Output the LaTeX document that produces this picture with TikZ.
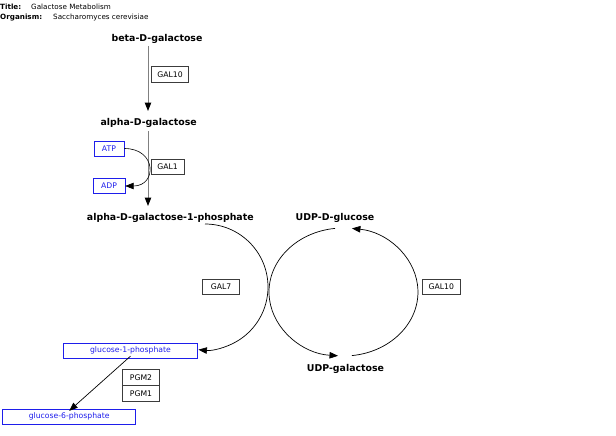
\documentclass[tikz,border=0pt]{standalone}
\usepackage{fontspec}
\setmainfont{DejaVu Sans}
\usetikzlibrary{arrows.meta}
\definecolor{mblue}{RGB}{30,30,235}
\definecolor{bxgray}{RGB}{60,60,60}
\begin{document}
\begin{tikzpicture}[x=1pt,y=1pt,yscale=-1,
  met/.style={font=\fontsize{9.4}{11}\selectfont\bfseries, inner sep=0pt},
  ttl/.style={font=\fontsize{7.2}{9}\selectfont, inner sep=0pt, anchor=west},
  gene/.style={draw=bxgray, line width=0.6pt, font=\fontsize{7.7}{9}\selectfont, inner sep=0pt, minimum height=15.5pt},
  bmet/.style={draw=mblue, text=mblue, line width=0.7pt, font=\fontsize{7.7}{9}\selectfont, inner sep=0pt, minimum height=15pt},
  tip/.style={-{Triangle[length=8.5pt,width=6.5pt,color=black]}},
  vconv/.style={tip, draw=black!50, line width=1pt},
  rxn/.style={tip, draw=black, line width=0.7pt}
]
\useasboundingbox (0,0) rectangle (616,436);

% title
\node[ttl,font=\fontsize{7.2}{9}\selectfont\bfseries] (tl) at (0,7) {Title:};
\node[ttl] (tv) at (31,7) {Galactose Metabolism};
\node[ttl,font=\fontsize{7.2}{9}\selectfont\bfseries] (ol) at (0,18) {Organism:};
\node[ttl] (ov) at (53,18) {Saccharomyces cerevisiae};

% metabolites
\node[met] (beta) at (157,38.5) {beta-D-galactose};
\node[met] (alpha) at (148.7,122.5) {alpha-D-galactose};
\node[met] (a1p) at (170.3,218) {alpha-D-galactose-1-phosphate};
\node[met] (udpg) at (335,217.8) {UDP-D-glucose};
\node[met] (udpgal) at (345.5,368.8) {UDP-galactose};

\node[bmet, minimum width=30pt] (atp) at (109,148.5) {ATP};
\node[bmet, minimum width=31.7pt] (adp) at (109,186) {ADP};
\node[bmet, minimum width=134.4pt] (g1p) at (130.5,350.8) {glucose-1-phosphate};
\node[bmet, minimum width=133pt] (g6p) at (69.2,416.7) {glucose-6-phosphate};

% genes
\node[gene, minimum width=36.6pt] (gal10a) at (170,74.5) {GAL10};
\node[gene, minimum width=33pt] (gal1) at (167.5,167) {GAL1};
\node[gene, minimum width=37pt] (gal7) at (221,286.7) {GAL7};
\node[gene, minimum width=37.3pt] (gal10b) at (441.3,286.7) {GAL10};
\node[gene, minimum width=36.7pt] (pgm2) at (141,377.2) {PGM2};
\node[gene, minimum width=36.7pt, anchor=north] (pgm1) at (pgm2.south) {PGM1};

% vertical conversions
\coordinate (v1s) at (148,46);
\coordinate (v1e) at (148,111);
\draw[vconv] (v1s) -- (v1e);
\coordinate (v2s) at (148,131);
\coordinate (v2e) at (148,206);
\draw[vconv] (v2s) -- (v2e);

% ATP -> ADP
\draw[rxn, line width=0.6pt] (atp.east) .. controls (157,148.5) and (157,186) .. (adp.east);

% GAL7 arc
\coordinate (l1) at (205,224);
\draw[rxn] (l1) arc[start angle=-90, end angle=96, radius=63];

% UDP-glucose -> UDP-galactose
\coordinate (r1) at (335,228.4);
\draw[rxn] (r1) arc[start angle=-96.55, end angle=-265.8, x radius=74.5, y radius=64];
% UDP-galactose -> UDP-glucose
\coordinate (r2) at (351.9,355.6);
\draw[rxn] (r2) arc[start angle=83.5, end angle=-83.5, x radius=74.5, y radius=64];

% glucose-1-phosphate -> glucose-6-phosphate
\draw[rxn] ([yshift=-2.5pt]g1p.south) -- ([yshift=2pt]g6p.north);
\end{tikzpicture}
\end{document}
